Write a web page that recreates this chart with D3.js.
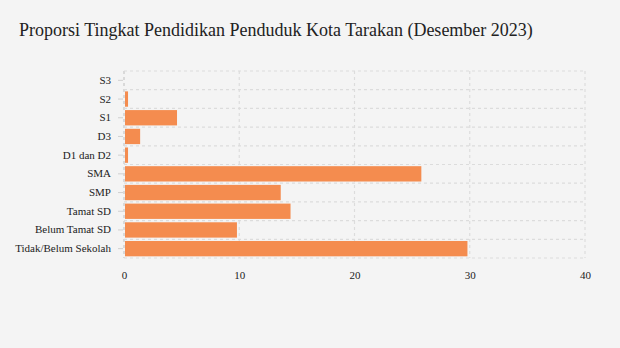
<!DOCTYPE html>
<html><head><meta charset="utf-8">
<script src="https://cdn.jsdelivr.net/npm/d3@7"></script>
<style>
html,body{margin:0;padding:0;background:#f4f4f4;}
svg{display:block;}
</style></head>
<body>
<svg id="c" width="620" height="348"></svg>
<script>
const categories = ["S3","S2","S1","D3","D1 dan D2","SMA","SMP","Tamat SD","Belum Tamat SD","Tidak/Belum Sekolah"];
const values = [0.03,0.35,4.6,1.4,0.35,25.8,13.6,14.45,9.8,29.8];
const xTicks = [0,10,20,30,40];

const svg = d3.select("#c");
svg.append("rect").attr("width",620).attr("height",348).attr("fill","#f4f4f4");
svg.append("text").attr("x",19).attr("y",36)
  .attr("font-family","'Liberation Serif', serif").attr("font-size",18).attr("fill","#222")
  .text("Proporsi Tingkat Pendidikan Penduduk Kota Tarakan (Desember 2023)");

const m = {l:124, r:585, t:71, b:258};
const x = d3.scaleLinear().domain([0,40]).range([m.l,m.r]);
const y = d3.scaleBand().domain(categories).range([m.t,m.b]).paddingInner(0.18).paddingOuter(0.09);
const yb = d3.scaleBand().domain(categories).range([m.t,m.b]);

const g = svg.append("g");
g.selectAll(".vg").data(xTicks).join("line")
  .attr("x1",d=>x(d)).attr("x2",d=>x(d)).attr("y1",m.t).attr("y2",m.b)
  .attr("stroke",d=>d===0?"#cfcfcf":"#dcdcdc").attr("stroke-width",d=>d===0?1.5:1.2).attr("stroke-dasharray","3,3");
const bounds = categories.map(c=>yb(c)).concat([m.b]);
g.selectAll(".hg").data(bounds).join("line")
  .attr("x1",m.l).attr("x2",m.r).attr("y1",d=>d).attr("y2",d=>d)
  .attr("stroke","#dcdcdc").attr("stroke-width",1.2).attr("stroke-dasharray","3,3");

g.selectAll(".bar").data(categories).join("rect")
  .attr("x",x(0)+1).attr("y",d=>y(d)).attr("height",y.bandwidth())
  .attr("width",(d,i)=>Math.max(0,x(values[i])-x(0)-1))
  .attr("fill","#f48c4f");

const yAxis = d3.axisLeft(yb).tickSize(5).tickPadding(7);
const ya = svg.append("g").attr("transform",`translate(${m.l-1},0)`).call(yAxis);
ya.select(".domain").remove();
ya.selectAll(".tick line").attr("stroke","#d0d0d0");
ya.selectAll(".tick text").attr("font-family","'Liberation Serif', serif").attr("font-size",11).attr("fill","#222");

const xAxis = d3.axisBottom(x).tickValues(xTicks).tickSize(0).tickPadding(12);
const xa = svg.append("g").attr("transform",`translate(0,${m.b+1})`).call(xAxis);
xa.select(".domain").remove();
xa.selectAll(".tick text").attr("font-family","'Liberation Serif', serif").attr("font-size",11).attr("fill","#222");
</script>
</body></html>
